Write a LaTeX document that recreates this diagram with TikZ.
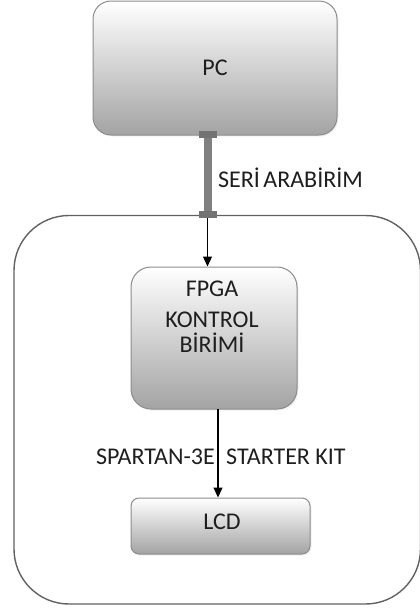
\documentclass[tikz,border=0pt]{standalone}
\usepackage{fontspec}
\setmainfont{Carlito}
\usetikzlibrary{arrows.meta,shadows}
\definecolor{txt}{HTML}{1E1E1E}
\definecolor{edge}{HTML}{8C8C8C}
\definecolor{bus}{HTML}{808080}
\tikzset{
  unit/.style={draw=edge, line width=1pt, top color=white, bottom color=black!36,
    inner sep=0pt, drop shadow={opacity=0.12, shadow xshift=1.5pt, shadow yshift=-1.5pt}},
  lbl/.style={text=txt, font=\fontsize{24}{25}\selectfont, inner sep=0pt},
  buscap/.style={fill=bus!90!black, inner sep=0pt, minimum width=18pt, minimum height=7pt},
  link/.style={line width=1.2pt, -{Triangle[length=10pt,width=9pt]}}
}
\begin{document}
\begin{tikzpicture}[x=1pt,y=-1pt]
\useasboundingbox (0,0) rectangle (420,611);

% board outline
\draw[draw=black!62, line width=1.4pt, rounded corners=55pt] (14,215.5) rectangle (420.5,604);

% PC
\node[unit, rounded corners=18pt, minimum width=244pt, minimum height=134pt] (pc) at (215,68) {};
\node[lbl] (pctext) at (pc.center) {PC};

% serial link
\node[buscap] (capa) at (207.5,134.5) {};
\node[buscap] (capb) at (207.5,214.5) {};
\draw[bus, line width=8pt] (capa.south) -- (capb.north);
\node[lbl, anchor=west] (serial) at (218,178) {SERİ\hspace{-2pt} ARABİRİM};

% FPGA
\node[unit, rounded corners=20pt, minimum width=166pt, minimum height=142pt] (fpga) at (214,338) {};
\node[lbl, align=center] (fpgatext) at (212,317) {FPGA\\[6pt]KONTROL\\BİRİMİ};
\draw[link] (capb.south) -- (capb.south |- fpga.north);

% LCD
\node[unit, rounded corners=8pt, minimum width=179pt, minimum height=56pt] (lcd) at (220.5,526) {};
\node[lbl] (lcdtext) at (222,522) {LCD};
\coordinate (fo) at (218,409);
\draw[link] (fo) -- (fo |- lcd.north);

% board name
\node[lbl, anchor=east] (kita) at (215,457) {SPARTAN-3E};
\node[lbl, anchor=west] (kitb) at (226,457) {STARTER KIT};
\end{tikzpicture}
\end{document}
